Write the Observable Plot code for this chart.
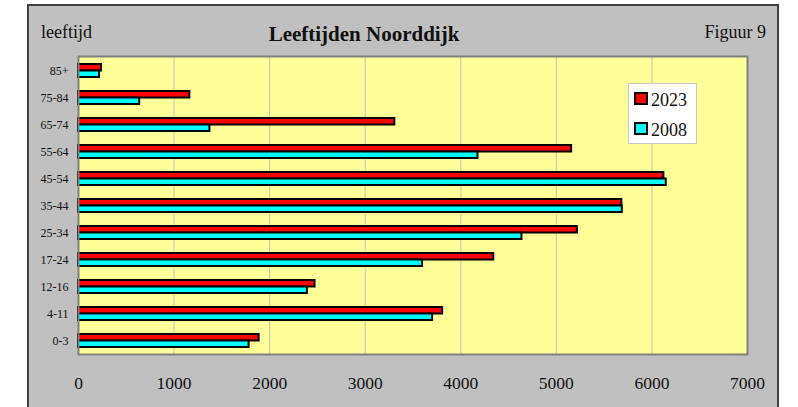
<!DOCTYPE html>
<html>
<head>
<meta charset="utf-8">
<script src="https://cdn.jsdelivr.net/npm/d3@7"></script>
<script src="https://cdn.jsdelivr.net/npm/@observablehq/plot@0.6"></script>
<style>
  body { margin: 0; background: #fff; font-family: "Liberation Serif", "Times New Roman", serif; }
  #wrap { position: relative; width: 798px; height: 407px; overflow: hidden; }
  #panel { position: absolute; left: 27px; top: 4px; width: 748px; height: 420px; background: #c0c0c0; border: 2px solid #404040; }
  #chart { position: absolute; left: 0; top: 0; }
  #chart g[aria-label="y-axis tick label"] { font-size: 12px; }
  #chart g[aria-label="x-axis tick label"] { font-size: 17.5px; }
  .txt { position: absolute; line-height: 1; color: #111; white-space: nowrap; }
  #title { left: 364px; top: 23.5px; font-size: 21px; font-weight: bold; transform: translateX(-50%); }
  #ylab { left: 41px; top: 23px; font-size: 18px; }
  #fig { right: 32px; top: 22.8px; font-size: 18px; }
  #legend { position: absolute; left: 628px; top: 83px; width: 67px; height: 59px; background: #fff; border: 1px solid #c8c8c8; }
  .sw { position: absolute; left: 5px; width: 10px; height: 9px; border: 2px solid #000; }
  .lt { position: absolute; left: 22px; font-size: 18px; line-height: 1; color: #111; }
</style>
</head>
<body>
<div id="wrap">
  <div id="panel"></div>
  <div id="chart"></div>
  <div class="txt" id="ylab">leeftijd</div>
  <div class="txt" id="title">Leeftijden Noorddijk</div>
  <div class="txt" id="fig">Figuur 9</div>
  <div id="legend"></div>
</div>
<script>
// ---- data ----
const ages = ["85+", "75-84", "65-74", "55-64", "45-54", "35-44", "25-34", "17-24", "12-16", "4-11", "0-3"];
const values2023 = [240, 1165, 3310, 5160, 6125, 5685, 5220, 4345, 2475, 3810, 1890];
const values2008 = [220, 640, 1375, 4180, 6150, 5690, 4640, 3600, 2395, 3705, 1785];
const years = ["2023", "2008"];
const yearColors = ["#ff0000", "#00ffff"];
const xTicks = [0, 1000, 2000, 3000, 4000, 5000, 6000, 7000];

const rows2023 = ages.map((a, i) => ({age: a, year: years[0], value: values2023[i]}));
const rows2008 = ages.map((a, i) => ({age: a, year: years[1], value: values2008[i]}));

const chart = Plot.plot({
  width: 798,
  height: 407,
  marginLeft: 78,
  marginRight: 51,
  marginTop: 56,
  marginBottom: 53,
  style: {background: "none", fontFamily: "'Liberation Serif', 'Times New Roman', serif", color: "#111"},
  x: {domain: [0, 7000]},
  y: {domain: ages, padding: 0},
  color: {domain: years, range: yearColors},
  marks: [
    Plot.frame({fill: "#ffff99", stroke: null}),
    Plot.gridX(xTicks, {stroke: "#c4c4c4", strokeOpacity: 1, strokeWidth: 1}),
    Plot.barX(rows2023, {x: "value", y: "age", fill: "year", stroke: "#000", strokeWidth: 2, insetTop: 7, insetBottom: 13.5}),
    Plot.barX(rows2008, {x: "value", y: "age", fill: "year", stroke: "#000", strokeWidth: 2, insetTop: 13.5, insetBottom: 7}),
    Plot.frame({stroke: "#808080", strokeWidth: 2}),
    Plot.axisY({tickSize: 0, tickPadding: 10, fontSize: 12, label: null}),
    Plot.axisX({ticks: xTicks, tickFormat: d => String(d), tickSize: 0, tickPadding: 22, fontSize: 17.5, label: null})
  ]
});
document.getElementById("chart").appendChild(chart);

// legend
const lg = document.getElementById("legend");
years.forEach((y, i) => {
  const sw = document.createElement("div");
  sw.className = "sw";
  sw.style.top = (8 + i * 30) + "px";
  sw.style.background = yearColors[i];
  lg.appendChild(sw);
  const t = document.createElement("div");
  t.className = "lt";
  t.style.top = (6.5 + i * 30) + "px";
  t.textContent = y;
  lg.appendChild(t);
});
</script>
</body>
</html>
